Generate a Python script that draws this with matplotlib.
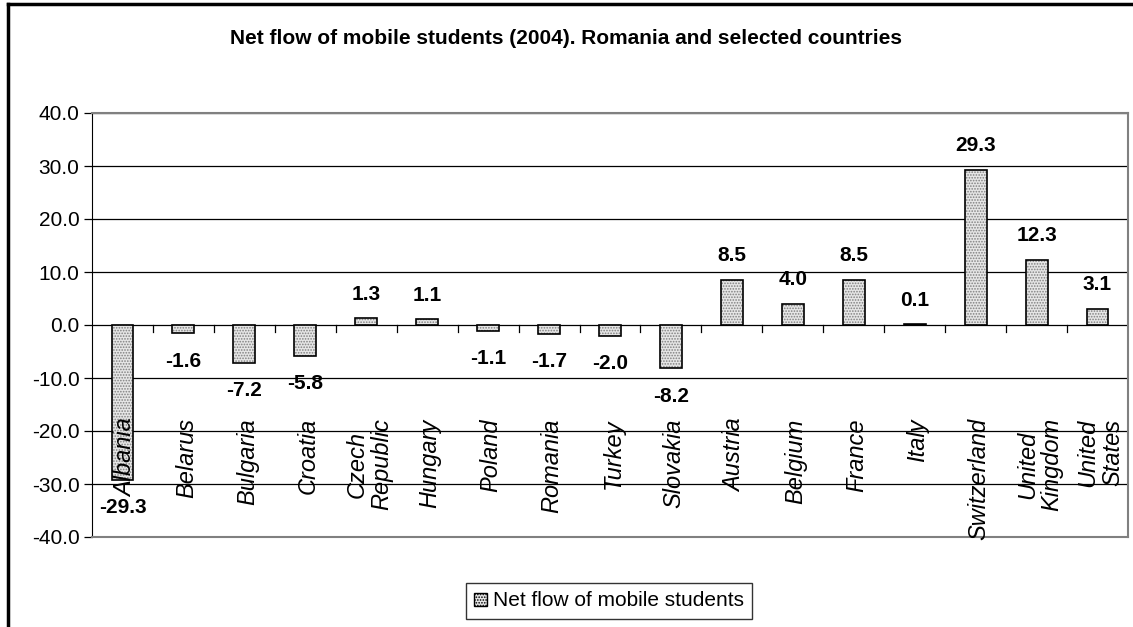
import matplotlib.pyplot as plt
import matplotlib.patches as mpatches
from matplotlib.lines import Line2D
import numpy as np

plt.rcParams["font.family"] = ["Liberation Sans", "DejaVu Sans"]
plt.rcParams["hatch.linewidth"] = 0.8

countries = ["Albania", "Belarus", "Bulgaria", "Croatia", "Czech\nRepublic",
             "Hungary", "Poland", "Romania", "Turkey", "Slovakia", "Austria",
             "Belgium", "France", "Italy", "Switzerland", "United\nKingdom",
             "United\nStates"]
net_flow = [-29.3, -1.6, -7.2, -5.8, 1.3, 1.1, -1.1, -1.7, -2.0, -8.2,
            8.5, 4.0, 8.5, 0.1, 29.3, 12.3, 3.1]
yticks = [40, 30, 20, 10, 0, -10, -20, -30, -40]

W, H = 1133, 627
fig = plt.figure(figsize=(W / 100, H / 100), dpi=100)
ax = fig.add_axes([92 / W, 1 - 537 / H, (1128 - 92) / W, (537 - 113) / H])

x = np.arange(len(countries))
# hatched fill, then black outline on top
ax.bar(x, net_flow, width=0.36, color="#e6e6e6", edgecolor="#808080",
       hatch="......", linewidth=0, zorder=2)
ax.bar(x, net_flow, width=0.36, fill=False, edgecolor="black",
       linewidth=1.2, zorder=3)

for xi, v in zip(x, net_flow):
    off = 10.5 if v >= 0 else -13
    ax.annotate(f"{v:.1f}", (xi, v), xytext=(0, off), textcoords="offset points",
                ha="center", va="bottom" if v >= 0 else "top",
                fontsize=15, fontweight="bold", zorder=5)

for xi, name in zip(x, countries):
    ax.text(xi + 0.05, -17.6, name, rotation=90, ha="center", va="top",
            multialignment="center", fontsize=17, style="italic",
            linespacing=1.1, zorder=4)

ax.set_xlim(-0.5, len(countries) - 0.5)
ax.set_ylim(-40, 40)
ax.set_yticks(yticks)
ax.set_yticklabels([f"{t:.1f}" for t in yticks], fontsize=15)
ax.set_xticks([])
for t in yticks:
    ax.axhline(t, color="black", linewidth=0.9, zorder=1)

# category tick marks on the zero line
for b in np.arange(0.5, len(countries) - 0.5, 1.0):
    ax.plot([b, b], [0, -1.3], color="black", linewidth=0.9, zorder=1,
            clip_on=False)

ax.tick_params(axis="y", direction="out", length=6, width=0.9, pad=3)
ax.spines["left"].set_color("black")
for s in ["top", "right", "bottom"]:
    ax.spines[s].set_color("#808080")
    ax.spines[s].set_linewidth(1.5)

fig.text(566 / W, 1 - 38 / H,
         "Net flow of mobile students (2004). Romania and selected countries",
         ha="center", va="center", fontsize=15, fontweight="bold")

handle = mpatches.Patch(facecolor="#e6e6e6", edgecolor="black",
                        hatch="......", linewidth=1.0)
leg = fig.legend([handle], ["Net flow of mobile students"],
                 loc="center", bbox_to_anchor=(609 / W, 1 - 601 / H),
                 fontsize=15, frameon=True, fancybox=False,
                 handlelength=0.6, handleheight=0.6, handletextpad=0.3,
                 borderpad=0.4)
leg.get_frame().set_edgecolor("black")
leg.get_frame().set_linewidth(1.0)

# outer chart border (top and left visible)
fig.add_artist(Line2D([8 / W, 1.0], [1 - 4 / H, 1 - 4 / H], color="black",
                      linewidth=2.5, transform=fig.transFigure))
fig.add_artist(Line2D([8 / W, 8 / W], [0.0, 1 - 4 / H], color="black",
                      linewidth=2.5, transform=fig.transFigure))

fig.savefig("out.png", dpi=100)
